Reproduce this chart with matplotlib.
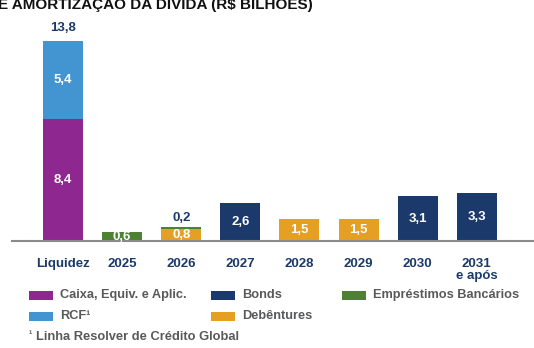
import matplotlib
matplotlib.use("Agg")
import matplotlib.pyplot as plt
from matplotlib.patches import Rectangle

plt.rcParams['font.family'] = ['Liberation Sans', 'DejaVu Sans']

categories = ["Liquidez", "2025", "2026", "2027", "2028", "2029", "2030", "2031\ne após"]
caixa = [8.4, 0, 0, 0, 0, 0, 0, 0]
rcf = [5.4, 0, 0, 0, 0, 0, 0, 0]
debentures = [0, 0, 0.8, 0, 1.5, 1.5, 0, 0]
emprestimos = [0, 0.6, 0.2, 0, 0, 0, 0, 0]
bonds = [0, 0, 0, 2.6, 0, 0, 3.1, 3.3]
total_label = {0: "13,8"}

legend_labels = ["Caixa, Equiv. e Aplic.", "Bonds", "Empréstimos Bancários", "RCF¹", "Debêntures"]
title = "DE AMORTIZAÇÃO DA DÍVIDA (R$ BILHÕES)"
footnote = "Linha Resolver de Crédito Global"

C_PURPLE = "#8e278f"
C_BLUE = "#4295d1"
C_NAVY = "#1b3a6b"
C_GREEN = "#4f8135"
C_ORANGE = "#e5a024"
C_GRAY = "#58595b"

W, H = 534, 348
fig = plt.figure(figsize=(W / 100, H / 100), dpi=100)

# axes geometry in pixels
x0_px, x1_px = 12, 534
base_px = 241
pitch = 59.1
c0 = 63
ppu = 14.5
ax = fig.add_axes([x0_px / W, (H - base_px) / H, (x1_px - x0_px) / W, base_px / H])
ax.set_xlim((x0_px - c0) / pitch, (x1_px - c0) / pitch)
ax.set_ylim(0, base_px / ppu)
ax.set_facecolor("none")
for s in ["top", "right", "left"]:
    ax.spines[s].set_visible(False)
ax.spines["bottom"].set_color("#8a8a8a")
ax.spines["bottom"].set_linewidth(1.5)
ax.set_yticks([])

xs = list(range(len(categories)))
bw = 40 / pitch

def fmt(v):
    return f"{v:.1f}".replace(".", ",")

series = [(caixa, C_PURPLE), (rcf, C_BLUE), (debentures, C_ORANGE), (emprestimos, C_GREEN), (bonds, C_NAVY)]
bottom = [0.0] * len(xs)
for vals, col in series:
    ax.bar(xs, vals, bw, bottom=bottom, color=col, linewidth=0)
    for i, v in enumerate(vals):
        if v <= 0:
            continue
        if i == 2 and col == C_GREEN:
            ax.text(i, bottom[i] + v + 0.2, fmt(v), ha="center", va="bottom",
                    color=C_NAVY, fontsize=9.5, fontweight="bold")
        else:
            ax.text(i, bottom[i] + v / 2, fmt(v), ha="center", va="center",
                    color="white", fontsize=9.5, fontweight="bold")
    bottom = [b + v for b, v in zip(bottom, vals)]

for i, lab in total_label.items():
    ax.text(i, bottom[i] + 0.45, lab, ha="center", va="bottom",
            color=C_NAVY, fontsize=9.5, fontweight="bold")

ax.set_xticks(xs)
ax.set_xticklabels(categories, fontsize=9.5, fontweight="bold", color=C_NAVY, linespacing=1.05)
ax.tick_params(axis="x", length=0, pad=12)

# title (cut off at top)
fig.text(313 / W, 1 - 9.5 / H, title, ha="right", va="baseline",
         fontsize=11, fontweight="bold", color="#111111")

# legend
legend_cols = [C_PURPLE, C_NAVY, C_GREEN, C_BLUE, C_ORANGE]
legend_pos = [(29, 295), (211, 295), (342, 295), (29, 316), (211, 316)]
for (px, py), col, lab in zip(legend_pos, legend_cols, legend_labels):
    fig.patches.append(Rectangle((px / W, 1 - (py + 4.5) / H), 24 / W, 9 / H,
                                 transform=fig.transFigure, color=col, linewidth=0))
    fig.text((px + 31) / W, 1 - py / H, lab, ha="left", va="center",
             fontsize=9.2, fontweight="bold", color=C_GRAY)

fig.text(29 / W, 1 - 334 / H, "¹", ha="left", va="center", fontsize=7,
         fontweight="bold", color=C_GRAY)
fig.text(36 / W, 1 - 337 / H, footnote, ha="left", va="center", fontsize=9.3,
         fontweight="bold", color=C_GRAY)

fig.savefig("out.png", dpi=100)
